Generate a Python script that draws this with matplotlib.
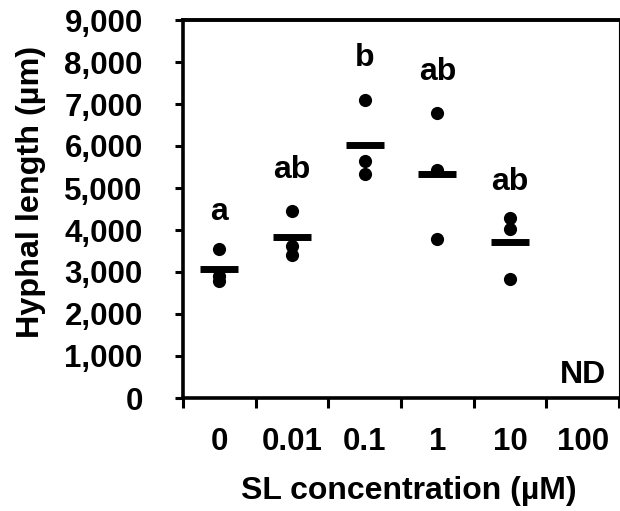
import matplotlib
matplotlib.use("Agg")
import matplotlib.pyplot as plt
import numpy as np

categories = ["0", "0.01", "0.1", "1", "10", "100"]
values = [
    [3550, 2900, 2780],
    [4460, 3620, 3400],
    [7095, 5640, 5330],
    [6795, 5430, 3790],
    [4280, 4030, 2840],
    [],
]
letters = ["a", "ab", "b", "ab", "ab", "ND"]
letter_y = [4238, 5230, 7905, 7571, 4952, 365]
yticks = [0, 1000, 2000, 3000, 4000, 5000, 6000, 7000, 8000, 9000]

plt.rcParams['font.family'] = ['Liberation Sans', 'DejaVu Sans']
plt.rcParams['font.weight'] = 'bold'

fig = plt.figure(figsize=(6.2, 5.11), dpi=100)
ax = fig.add_axes([183/620, 1-398/511, 436/620, 378/511])

for i, vals in enumerate(values):
    if vals:
        ax.scatter([i]*len(vals), vals, s=90, color='black', zorder=3, linewidths=0)
        ax.hlines(np.mean(vals), i-0.26, i+0.26, color='black', linewidth=5, zorder=4)
    ax.text(i, letter_y[i], letters[i], ha='center', va='baseline',
            fontsize=23, fontweight='bold')

ax.set_xlim(-0.5, 5.5)
ax.set_ylim(0, 9000)
ax.set_yticks(yticks)
ax.set_yticklabels([f"{v:,}" for v in yticks])
ax.set_xticks(np.arange(-0.5, 6.0, 1.0))
ax.set_xticklabels([])
ax.set_xticks(np.arange(len(categories)), minor=True)
ax.set_xticklabels(categories, minor=True)

ax.tick_params(axis='y', which='major', direction='out', length=6, width=2.2,
               labelsize=22.5, pad=23)
ax.tick_params(axis='x', which='major', direction='out', length=7, width=2.2)
ax.tick_params(axis='x', which='minor', length=0, labelsize=22.5, pad=21)
for lab in ax.get_xticklabels(minor=True) + ax.get_yticklabels():
    lab.set_fontweight('bold')

ax.spines['left'].set_linewidth(2.6)
ax.spines['bottom'].set_linewidth(2.6)
ax.spines['top'].set_linewidth(2.8)
ax.spines['right'].set_linewidth(0.8)

ax.set_ylabel("Hyphal length (µm)", fontsize=23.3, fontweight='bold', va='center')
ax.yaxis.set_label_coords(-0.349, 0.545)
ax.set_xlabel("SL concentration (µM)", fontsize=23, fontweight='bold', va='center')
ax.xaxis.set_label_coords(0.518, -0.246)

fig.savefig("out.png", dpi=100)
